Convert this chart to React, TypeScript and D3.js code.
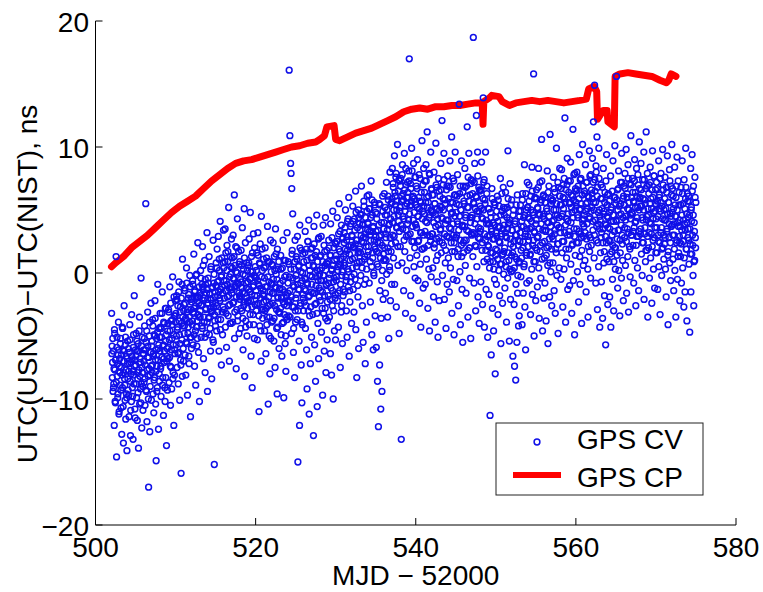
import React from 'react';
import * as d3 from 'd3';

const xTicks = [500, 520, 540, 560, 580];
const yTicks = [-20, -10, 0, 10, 20];
const xLabel = 'MJD \u2212 52000';
const yLabel = 'UTC(USNO)\u2212UTC(NIST), ns';
const seriesNames = ['GPS CV', 'GPS CP'];

// GPS CP (red line)
const cpX = [502.0, 502.5, 503.5, 504.5, 505.5, 506.5, 507.5, 508.5, 509.5, 510.5, 511.5, 512.5, 513.5, 514.5, 515.5, 516.5, 517.5, 518.5, 519.5, 520.5, 521.5, 522.5, 523.5, 524.5, 525.5, 526.5, 527.5, 528.0, 528.6, 528.9, 529.8, 530.0, 530.5, 531.5, 532.5, 533.5, 534.5, 535.5, 536.5, 537.5, 538.5, 539.5, 540.5, 541.5, 542.5, 543.5, 544.5, 545.5, 546.5, 547.5, 548.3, 548.4, 548.5, 549.2, 549.5, 550.4, 550.8, 551.7, 552.5, 553.5, 554.5, 555.5, 556.5, 557.5, 558.5, 559.5, 560.5, 561.3, 561.6, 562.3, 562.6, 562.7, 563.4, 563.9, 564.0, 564.8, 564.9, 565.5, 566.5, 567.5, 568.5, 569.5, 570.5, 571.3, 571.6, 571.9, 572.5];
const cpY = [0.5, 0.8, 1.3, 2.0, 2.5, 3.0, 3.6, 4.2, 4.8, 5.3, 5.7, 6.1, 6.7, 7.3, 7.8, 8.3, 8.7, 8.9, 9.0, 9.2, 9.4, 9.6, 9.8, 10.0, 10.1, 10.3, 10.4, 10.6, 10.9, 11.6, 11.7, 10.6, 10.5, 10.8, 11.1, 11.3, 11.5, 11.8, 12.1, 12.4, 12.8, 13.0, 13.1, 13.0, 13.2, 13.2, 13.3, 13.3, 13.4, 13.5, 13.5, 11.8, 13.6, 13.9, 14.1, 14.0, 13.6, 13.3, 13.5, 13.6, 13.7, 13.6, 13.7, 13.6, 13.5, 13.6, 13.7, 13.8, 14.6, 14.8, 14.4, 12.2, 12.9, 12.9, 12.0, 11.6, 15.6, 15.8, 15.9, 15.8, 15.7, 15.6, 15.3, 15.1, 15.3, 15.8, 15.6];

// GPS CV (blue circles), values per day
const cvDays = [502, 503, 504, 505, 506, 507, 508, 509, 510, 511, 512, 513, 514, 515, 516, 517, 518, 519, 520, 521, 522, 523, 524, 525, 526, 527, 528, 529, 530, 531, 532, 533, 534, 535, 536, 537, 538, 539, 540, 541, 542, 543, 544, 545, 546, 547, 548, 549, 550, 551, 552, 553, 554, 555, 556, 557, 558, 559, 560, 561, 562, 563, 564, 565, 566, 567, 568, 569, 570, 571, 572, 573, 574];
const cvValues = [
  [-3.2, -5.8, -7.1, -9.4, -6.2, -8.8, -12.1, -4.5, -7.7, -10.3, -6.9, 1.3, -14.6, -5.1, -8.2, -9.9, -6.5, -3.9, -11.2, -7.4],
  [-6.8, -8.9, -5.2, -10.7, -7.5, -12.8, -4.3, -9.1, -6.1, -13.5, -7.9, -2.6, -8.4, -10.1, -5.7, -11.6, -6.6, -9.6, -14.1, -7.2],
  [-5.4, -9.3, -7.8, -11.4, -6.3, -4.1, -8.6, -12.9, -7.1, -10.2, -3.3, -6.9, -9.8, -13.2, -5.9, -8.1, -1.8, -7.4, -10.8, -6.1],
  [-7.3, -4.8, -9.9, -6.2, -11.7, -8.4, -5.6, -13.9, -7.7, -3.5, -10.4, -6.8, -9.2, -0.4, -8.8, -12.3, -5.1, -7.9, -10.9, -6.4],
  [-6.1, -8.7, -4.2, -10.5, -7.3, 5.5, -5.5, -9.4, -11.8, -6.7, -3.1, -8.2, -17.0, -7.6, -5.0, -12.6, -9.0, -6.3, -2.4, -10.1],
  [-5.8, -7.9, -3.7, -9.6, -6.4, -11.1, -4.9, -8.3, -2.2, -6.9, -10.4, -14.9, -5.2, -7.4, -9.1, -0.9, -6.0, -12.4, -4.4, -8.6],
  [-5.1, -3.2, -7.6, -9.8, -4.4, -6.7, -1.5, -8.9, -5.8, -11.3, -3.9, -7.1, -6.2, -10.2, -2.8, -8.3, -4.9, -13.7, -6.6, -9.3],
  [-4.6, -6.8, -2.9, -8.7, -5.3, -1.1, -7.4, -10.5, -3.8, -6.1, -9.2, -4.1, -0.3, -7.9, -5.7, -12.1, -3.4, -8.1, -6.4, -2.2],
  [-3.9, -5.7, -1.8, -7.5, -4.5, -2.6, -8.8, -6.3, -0.7, -4.9, -10.1, -3.1, -6.9, -15.9, -2.0, -5.3, -8.2, 1.1, -4.2, -7.0],
  [-3.0, -4.8, -1.2, -6.5, -2.4, -8.1, -3.7, 0.4, -5.6, -9.7, -2.9, -4.3, -1.7, -7.2, -3.5, -0.2, -5.1, -11.4, -2.1, -6.0],
  [-2.3, -4.1, -0.6, -5.7, -3.2, 1.5, -2.8, -7.4, -1.4, -4.6, -8.9, -2.0, -0.1, -3.8, -5.2, 2.4, -1.9, -6.3, -3.5, -10.2],
  [-1.8, -3.5, 0.2, -5.1, -2.6, -0.9, -4.4, 2.1, -1.3, -6.8, -2.2, -3.9, 1.0, -7.9, -0.5, -2.9, -4.8, -1.6, 3.2, -9.4],
  [-2.1, -0.4, -3.6, 1.3, -4.9, -1.7, -2.8, -6.2, 0.5, -3.1, -8.4, -1.1, -2.4, 2.6, -5.5, -0.8, -15.2, -3.3, -1.5, -4.2],
  [-2.4, 0.8, -4.6, 1.9, -0.7, -3.1, 2.9, -1.5, -6.2, 0.2, -2.0, 4.1, -3.7, -0.3, -7.3, 1.2, -1.1, -4.9, -2.7, 3.4],
  [0.4, -2.9, -1.0, 3.5, -4.3, 1.6, -0.6, -5.9, 2.2, -1.9, 0.9, -3.4, 5.2, -1.2, -7.0, -2.5, 1.3, -0.1, -4.0, 2.7],
  [-1.6, 1.2, -3.9, 3.0, -0.4, -2.3, 6.2, -5.2, 0.6, -1.1, 2.1, -7.6, -2.9, 0.0, 4.3, -3.4, -0.9, 1.7, -4.8, -1.8],
  [0.9, -2.1, -4.4, 1.8, -0.7, -3.0, 3.6, -1.5, -6.1, 0.3, -2.6, 5.1, -8.2, -0.2, 2.4, -3.8, -1.2, 0.8, -5.0, -2.3],
  [-2.8, 0.6, -1.3, 2.7, -4.1, -0.5, 4.8, -2.2, -6.6, 1.3, -1.7, -9.1, 0.1, -3.3, 3.1, -1.0, -5.2, 2.0, -2.5, -0.3],
  [-0.4, -3.0, 1.6, -1.8, -5.3, 3.2, -0.9, -2.4, -11.0, 0.8, -4.2, 2.3, -1.2, -7.0, 4.5, -2.9, 0.2, -3.6, -1.4, 1.1],
  [-2.3, 0.4, -4.6, 2.0, -1.1, -6.4, -2.8, 1.2, -3.5, 3.7, -0.3, -10.4, -1.9, -5.0, 0.9, -8.0, -2.5, 2.6, -0.8, -3.9],
  [0.7, -1.6, -3.8, 2.4, -0.5, -5.4, 1.3, -2.6, -7.5, 3.5, -1.1, -0.1, -4.4, -9.6, 1.9, -2.0, 0.3, -3.1, -6.0, -1.3],
  [-3.2, -0.8, 1.4, -4.9, -2.0, -6.6, 0.4, -1.3, 2.6, -3.9, -9.9, -2.5, -0.3, -5.6, 1.0, -7.8, -1.8, -3.5, 3.2, -2.2],
  [-1.6, 0.9, -3.4, 16.1, -0.3, 10.9, -2.2, 8.7, 7.9, -4.8, 6.7, 1.8, 4.7, -1.0, -6.3, -2.7, 0.3, -8.3, 2.6, -3.9],
  [-2.0, 1.3, -0.5, -3.7, 2.9, -15.0, -1.3, 0.5, -5.4, -12.1, 3.8, -2.6, -0.8, -7.3, 1.8, -10.3, -4.1, 0.0, -1.7, -3.0],
  [0.9, -2.3, -0.4, 3.3, -4.4, -1.4, 1.9, -6.1, -9.2, -0.9, 2.5, -3.0, 4.2, -11.2, -1.8, 0.2, -7.2, -2.7, 1.2, -5.1],
  [-0.9, 2.0, -3.3, 0.6, -12.9, 3.7, -1.6, -5.7, 1.4, -8.6, -0.3, -2.4, 4.6, -10.6, 0.2, -4.0, 2.7, -6.8, -1.2, -0.1],
  [1.3, -2.2, -0.6, 2.9, -4.7, 0.4, -1.5, -9.7, 3.8, -3.2, -0.2, -6.2, 1.7, -2.8, 4.4, -7.9, -1.0, 0.8, -5.3, -3.8],
  [0.7, -1.8, 2.6, -0.4, -3.5, 1.4, -6.4, 3.9, -1.2, -8.1, 0.2, -2.6, 4.9, -10.0, -0.7, 2.0, -4.6, 1.0, -2.0, -5.3],
  [2.3, -0.6, 1.1, 4.4, -2.2, 0.2, -4.3, 3.1, 5.5, -1.4, 1.7, -7.5, 0.6, -3.1, 3.8, -0.2, -5.6, 2.7, -1.8, 1.3],
  [0.8, 3.2, -1.5, 1.9, 5.0, -0.3, -3.0, 2.6, -5.1, 4.1, 0.3, -1.1, 6.0, -6.6, 1.5, -2.3, 3.7, -0.7, 2.2, -4.0],
  [3.0, 0.4, 5.3, -1.3, 2.1, -3.1, 4.3, 1.2, -0.5, 6.5, -4.5, 2.6, -8.3, 0.8, 3.6, -1.9, 5.0, -6.0, 1.7, 3.9],
  [1.9, 4.7, -0.2, 3.0, 6.9, 0.9, -2.6, 3.8, -5.5, 2.4, 5.7, -0.9, 1.3, -7.2, 4.4, 2.8, -3.9, 0.3, 6.1, 3.4],
  [4.0, 1.7, 6.2, -0.8, 3.3, 5.1, -2.3, 2.6, 7.3, 0.5, -4.9, 4.6, 1.2, -6.1, 3.7, -0.2, 5.6, 2.1, -3.4, 4.8],
  [2.9, -5.9, 4.3, 0.7, -8.6, 3.4, -12.2, 1.6, 5.5, -7.3, -1.4, 2.4, -10.8, -3.6, 4.0, -9.4, 0.2, 6.1, -2.1, 1.0],
  [3.5, 6.3, 1.1, 4.6, -1.6, 2.8, 7.2, -0.1, 5.0, -3.5, 2.0, 5.8, -5.2, 3.9, 0.5, 8.0, -2.2, 4.3, 1.7, -0.9],
  [5.6, 8.3, 3.0, 6.8, 1.2, 4.5, 9.3, -0.9, 6.1, 2.4, 7.6, -2.7, 5.0, 3.6, 10.2, 0.6, 6.5, 4.1, -4.8, 7.3],
  [4.9, 2.1, 7.5, -13.2, 5.7, 0.8, 8.6, 3.5, 6.3, -1.4, 4.3, 9.5, 1.7, 5.3, -3.2, 7.0, 2.9, 0.2, 6.0, 3.9],
  [6.4, 3.0, 8.1, 17.0, 4.7, 1.2, 7.1, -1.8, 5.4, 9.9, 2.5, 6.0, -3.6, 4.2, 8.7, 0.5, 5.9, 2.0, -0.4, 7.6],
  [3.8, 6.9, 1.4, 5.2, 9.0, -0.6, 4.5, 2.6, 7.8, -2.4, 5.7, 0.7, -4.3, 6.4, 3.2, 10.5, 1.9, 4.9, -1.2, 8.3],
  [5.3, 2.0, 7.3, -0.9, 4.1, 8.6, 1.1, 6.0, 11.2, 3.0, -2.8, 5.6, 0.3, 7.9, -4.6, 4.6, 2.5, 9.6, -0.3, 6.6],
  [3.1, 6.2, 0.4, 4.8, -1.9, 8.0, 2.3, 5.5, -3.9, 3.7, 10.3, 1.0, 6.8, -0.7, 4.3, -5.1, 7.5, 2.8, -2.2, 5.0],
  [6.1, 3.4, 8.7, 1.6, 5.2, 12.1, -0.2, 4.3, 7.0, 2.2, 9.5, -2.1, 5.8, 0.8, 3.9, -4.4, 6.6, 2.9, -0.9, 7.7],
  [4.2, 1.2, 6.9, -1.5, 3.6, 8.9, 0.4, 5.6, 2.4, 10.8, -3.2, 4.8, 7.5, -0.5, 3.0, -4.9, 6.2, 1.7, 9.6, 2.8],
  [2.8, 5.5, -0.6, 4.1, 7.8, 1.3, -2.6, 3.4, 13.4, 6.3, 0.1, -4.1, 5.0, 2.2, 8.9, -1.3, 3.8, -5.5, 6.9, 1.6],
  [5.7, 2.6, 8.3, 0.6, 4.4, -1.6, 6.9, 3.4, 11.6, 1.8, -3.5, 5.2, 9.5, 2.0, -0.4, 6.2, 4.0, -5.2, 7.4, 3.0],
  [4.4, 7.3, 1.3, 18.7, 5.6, -0.8, 3.1, 8.7, 2.2, -3.0, 6.1, 12.5, 0.5, 4.9, 9.6, -1.9, 3.6, 6.8, -4.0, 2.7],
  [6.5, 3.3, -0.7, 5.1, 8.8, 1.8, -2.5, 4.3, 13.9, 7.2, 0.9, -4.3, 5.8, 2.6, 9.6, -1.3, 3.9, 6.3, 1.1, -5.1],
  [2.2, 5.1, -1.7, 3.9, 0.4, -11.3, 4.8, 1.6, -6.5, 3.3, 6.7, -2.8, 2.7, 0.9, -4.6, 5.6, -0.5, 3.8, -8.0, 1.9],
  [4.4, -0.9, 2.9, 6.1, 1.1, -3.3, 3.6, 0.2, 5.3, -1.8, 2.4, 7.5, -5.6, 3.1, 0.7, 4.9, -2.4, 1.5, 6.8, -0.1],
  [1.7, 4.6, -1.2, 3.2, 6.4, 0.5, -3.9, 2.8, 5.2, -0.4, 9.7, 3.9, 1.0, -5.4, 4.2, 7.1, -2.1, 2.3, 0.1, 5.8],
  [3.4, 0.2, -6.6, 2.1, 5.0, -2.5, -7.4, 1.3, 4.1, -8.5, -0.9, 3.0, -5.5, 6.2, -1.6, 2.6, -4.2, 0.8, -3.4, 4.5],
  [2.5, 5.4, -0.3, 3.7, 1.2, -4.1, 6.3, 2.0, -1.6, 4.4, 0.5, 8.6, -2.7, 3.1, -6.1, 5.0, 1.6, -0.8, 7.2, 2.9],
  [5.2, 2.1, 7.0, -0.6, 4.3, 1.4, -3.3, 6.1, 3.6, 0.3, 8.4, -1.7, 4.8, 2.6, 15.8, -5.0, 3.2, 5.9, 0.9, -2.2],
  [3.9, 6.6, 1.8, -1.1, 5.2, 2.9, 8.3, 0.4, -3.6, 4.6, 7.2, 2.2, -0.4, 5.8, 10.6, 1.1, -4.6, 3.4, 6.1, -2.0],
  [4.7, 1.2, -0.8, 6.0, 3.3, -3.8, 5.1, 2.0, 8.1, 0.6, -5.6, 4.0, 6.9, 2.7, -1.9, 11.0, 3.7, 0.1, 5.5, -2.6],
  [2.9, 5.7, 0.8, 7.6, 4.2, -1.4, 3.1, 6.4, -3.2, 1.9, 5.0, 9.9, -0.2, 4.6, 2.3, -4.8, 6.8, 3.6, 0.4, 8.3],
  [6.1, 3.2, -0.5, 5.4, 8.2, 1.6, 4.7, -2.7, 7.0, 2.5, 0.3, 5.9, 12.3, 3.8, -3.9, 6.6, 1.2, 4.3, 9.1, -1.3],
  [4.1, 7.3, 1.9, 5.5, -1.0, 3.0, 8.8, 0.7, 6.2, -3.2, 4.8, 2.3, 11.4, -0.6, 5.8, 3.5, -4.9, 7.9, 1.4, 6.5],
  [5.6, 2.4, 8.0, 0.1, 4.6, 6.9, -2.3, 3.3, 9.4, 1.3, -0.9, 5.1, 7.5, 2.8, -4.0, 6.2, 10.2, 3.9, 0.6, 4.3],
  [3.7, 6.5, 1.0, 8.6, 4.9, -1.5, 2.7, 7.2, 5.6, 0.3, -3.5, 6.1, 3.0, 9.7, 1.7, 4.4, -0.4, 7.8, 2.2, 5.2],
  [6.3, 9.1, 3.4, 12.0, 5.6, 1.2, 14.9, 7.4, 4.2, -0.8, 8.5, 2.6, 10.8, -2.9, 6.8, 3.9, 0.5, 9.9, 5.0, -4.3],
  [4.5, 1.6, 7.0, -0.7, 3.2, 5.9, -3.6, 2.4, 8.3, 0.8, 4.9, -1.8, 6.4, 2.9, -5.7, 3.8, 9.4, 1.1, 5.4, -2.5],
  [3.6, 6.3, 0.9, 4.8, -1.9, 2.5, 7.7, -4.3, 5.2, 1.7, 3.0, -0.5, 8.9, 4.1, -3.0, 6.0, 2.0, 10.1, 0.3, 5.5],
  [4.2, 15.6, 1.4, 6.6, -1.2, 3.4, 8.1, 0.2, 5.3, -3.4, 2.6, 7.2, 4.7, -0.4, 9.5, 3.0, 1.0, 5.9, -2.2, 6.9],
  [5.4, 2.8, 7.9, 0.6, 4.2, 9.8, -1.6, 6.3, 3.5, 1.3, 8.6, -3.1, 5.0, 2.1, 7.1, -0.3, 4.6, 10.9, 3.0, 6.0],
  [4.8, 7.5, 2.2, 5.7, -0.8, 3.6, 9.0, 1.0, 6.4, -2.6, 4.1, 8.3, 2.9, 0.4, 5.2, 7.0, -1.4, 3.3, 10.4, 5.9],
  [6.0, 3.1, 8.7, 1.5, 5.3, -0.2, 7.4, 4.2, 2.4, 9.6, -2.1, 5.8, 3.6, 0.9, 6.7, 11.2, 4.5, 1.8, 7.9, -3.5],
  [5.1, 2.0, 7.0, -0.4, 4.0, 8.4, 1.2, 5.9, 3.1, -2.4, 6.6, 9.7, 2.6, 0.3, 4.8, 7.7, -1.2, 3.6, 5.5, 1.6],
  [4.3, 7.2, 1.6, 5.7, -1.3, 3.0, 8.9, 0.5, 6.2, 2.4, -3.3, 4.9, 7.9, 3.6, -0.2, 5.3, 9.8, 2.0, 6.6, 1.1],
  [5.0, 2.3, 7.6, 0.3, 4.2, -1.9, 6.4, 3.3, 9.3, 1.4, -4.1, 5.6, 2.8, 8.2, 0.8, 4.7, -0.6, 6.9, 3.7, 10.2],
  [3.8, 6.7, 1.1, 5.1, -1.4, 3.0, 8.4, 0.2, 4.5, -3.5, 6.0, 2.4, 9.2, -0.5, 4.0, 7.3, 1.6, 5.4, 2.9, -2.2],
  [4.2, 1.3, 6.8, -0.8, 3.4, 8.9, 0.4, 5.5, 2.5, -2.7, 7.4, 3.9, -1.5, 5.9, 9.9, 1.9, 4.7, -3.8, 6.3, 2.8],
  [3.5, 6.1, 0.7, 4.6, -4.7, 2.3, 8.3, -1.5, 5.2, 1.5, 9.4, 3.0, -0.2, 6.9, -2.6, 4.0, 1.0, 7.6, 2.8, 5.6],
];

// GPS CV, second block of readings per day (same days, later in each day)
const cvValuesLate = [
  [-6.4, -8.3, -5.2, -9.1, -7.6, -4.8, -10.2, -6.9, -8.7, -5.9, -7.2, -9.6, -6.1, -11.0],
  [-7.9, -5.6, -9.3, -6.5, -8.1, -4.4, -10.6, -7.0, -6.2, -8.9, -5.1, -7.7, -9.9, -6.8],
  [-8.4, -6.0, -9.7, -7.2, -5.3, -10.9, -8.0, -6.6, -9.1, -7.8, -4.9, -8.8, -6.9, -11.5],
  [-6.6, -8.8, -5.4, -7.9, -9.5, -6.2, -4.6, -8.2, -7.1, -10.3, -5.8, -7.5, -9.0, -6.4],
  [-7.0, -5.2, -8.4, -6.1, -9.3, -4.6, -7.7, -5.8, -10.0, -6.7, -3.9, -8.1, -6.3, -7.4],
  [-5.4, -7.3, -4.2, -6.6, -8.5, -5.0, -3.6, -7.8, -6.1, -9.4, -4.7, -6.9, -5.7, -8.0],
  [-6.2, -4.3, -7.4, -5.1, -3.2, -8.3, -5.7, -6.8, -4.0, -9.1, -5.4, -2.8, -7.0, -6.0],
  [-4.0, -5.9, -3.1, -6.7, -4.6, -2.4, -7.5, -5.2, -3.7, -8.4, -4.9, -1.9, -6.1, -3.4],
  [-3.2, -5.0, -2.1, -4.3, -6.4, -1.5, -3.8, -5.6, -2.7, -7.3, -4.0, -0.9, -3.5, -6.0],
  [-2.5, -4.2, -1.4, -3.6, -5.5, -0.8, -3.1, -4.8, -2.0, -6.6, -3.9, -1.1, -2.9, -5.1],
  [-2.0, -3.8, -0.9, -3.1, -4.9, -1.5, -2.6, -0.2, -4.3, -5.8, -1.9, -3.3, -2.4, -1.1],
  [-1.6, -3.0, -0.4, -2.5, -4.2, -1.1, 0.6, -3.5, -2.0, -5.1, -0.9, -2.8, -1.3, -3.9],
  [-2.4, -0.8, -3.5, -1.6, -4.4, 0.3, -2.1, -3.0, -1.2, -5.3, -2.7, -0.1, -3.8, -1.9],
  [-1.0, -2.6, 0.4, -1.8, -3.7, -0.6, 1.1, -2.2, -4.5, -1.3, -0.2, -3.1, -1.6, 0.8],
  [-0.6, -2.0, 0.9, -1.4, -3.2, 0.2, -0.9, 1.7, -2.6, -1.8, -0.3, -4.0, 0.5, -1.1],
  [-1.3, 0.4, -2.4, -0.5, 1.3, -3.1, -1.0, 0.1, -1.9, 2.0, -3.8, -0.8, -1.6, 0.7],
  [-1.9, -0.5, -2.8, 0.6, -1.2, -3.6, -0.1, -2.3, 1.2, -1.6, -4.3, -0.8, -2.0, 0.2],
  [-0.7, -2.2, 0.8, -1.5, -3.3, 0.1, -0.4, -2.7, 1.6, -1.1, -4.1, -0.2, -1.8, 0.5],
  [-1.4, 0.2, -2.5, -0.6, 1.4, -3.4, -1.0, 0.7, -2.0, -4.6, -0.3, 1.9, -1.7, -2.9],
  [-1.8, -0.4, -3.0, 0.5, -2.2, -4.1, -1.1, 0.9, -2.6, -0.7, -3.5, -1.5, -5.2, 0.1],
  [-0.9, -2.4, 0.6, -1.6, -3.6, 0.2, -1.2, 1.5, -2.9, -0.5, -4.3, -1.9, 0.9, -3.1],
  [-1.2, -2.8, 0.3, -1.9, -4.0, -0.6, -2.3, 1.0, -3.3, -1.5, -5.0, -0.2, -2.6, -3.7],
  [-0.8, -2.3, 0.7, -1.4, -3.5, 0.3, -1.9, 1.5, -2.7, -0.4, -4.4, -1.1, 0.9, -3.0],
  [-0.2, -1.7, 1.1, -0.9, -3.0, 0.6, -1.3, 2.0, -2.4, 0.1, -3.9, -0.6, 1.5, -2.0],
  [0.4, -1.3, 1.6, -0.5, -2.6, 1.0, -0.8, 2.5, -1.9, 0.6, -3.4, -0.2, 1.9, -1.5],
  [-0.3, 1.2, -1.6, 0.5, 2.3, -2.5, 0.0, -1.0, 1.7, -3.2, 0.9, -0.6, 2.8, -1.9],
  [0.2, -1.4, 1.4, -0.6, -2.8, 0.9, -0.2, 2.2, -1.8, 0.6, -3.6, -0.9, 1.8, -2.3],
  [0.9, -0.8, 2.0, -0.1, -2.1, 1.4, 0.3, 2.8, -1.4, 0.6, -3.0, -0.4, 2.4, -1.7],
  [1.4, -0.3, 2.5, 0.5, -1.6, 1.9, 0.7, 3.3, -0.9, 1.1, -2.6, 0.1, 2.8, -1.3],
  [2.4, 0.6, 3.6, 1.5, -0.6, 2.9, 1.8, 4.3, 0.1, 2.1, -1.4, 1.0, 3.9, -0.3],
  [2.9, 1.1, 4.1, 2.0, -0.1, 3.4, 2.3, 4.8, 0.5, 2.6, -1.0, 1.6, 4.4, 0.9],
  [3.4, 1.6, 4.6, 2.5, 0.4, 3.9, 2.8, 5.3, 1.1, 3.1, -0.5, 2.1, 4.9, 1.4],
  [3.9, 2.1, 5.1, 3.0, 0.9, 4.4, 3.3, 5.8, 1.6, 3.6, 0.0, 2.6, 5.4, 1.9],
  [3.3, 1.7, 4.7, 2.4, 0.5, 3.8, 2.9, 5.4, 1.2, 3.0, -0.6, 2.2, 4.9, 1.5],
  [4.0, 2.0, 5.2, 3.1, 1.0, 4.6, 3.4, 6.1, 1.7, 3.8, 0.2, 2.8, 5.5, 2.3],
  [5.9, 4.0, 7.1, 5.0, 2.9, 6.4, 5.4, 7.9, 3.6, 5.7, 2.1, 4.6, 7.4, 3.3],
  [5.2, 6.9, 3.8, 6.1, 7.8, 4.5, 5.8, 2.6, 6.6, 4.9, 8.3, 3.4, 5.5, 7.2],
  [6.0, 4.2, 7.3, 5.3, 3.1, 6.7, 5.7, 8.1, 3.7, 6.1, 2.5, 4.8, 7.6, 3.9],
  [5.4, 3.6, 6.7, 4.5, 2.5, 6.0, 5.1, 7.5, 3.2, 5.6, 1.9, 4.3, 7.0, 3.0],
  [4.7, 6.4, 3.3, 5.6, 7.3, 4.0, 5.2, 2.2, 6.1, 4.4, 7.8, 2.9, 5.0, 6.7],
  [4.9, 3.1, 6.2, 4.0, 2.0, 5.5, 4.6, 7.0, 2.7, 5.1, 1.4, 3.8, 6.5, 2.5],
  [5.3, 3.5, 6.6, 4.4, 2.4, 5.9, 5.0, 7.4, 3.1, 5.5, 1.8, 4.2, 6.9, 2.9],
  [4.2, 5.9, 2.8, 5.1, 6.8, 3.5, 4.7, 1.7, 5.6, 3.9, 7.3, 2.4, 4.5, 6.2],
  [4.8, 3.0, 6.1, 3.9, 1.9, 5.4, 4.5, 6.9, 2.6, 5.0, 1.3, 3.7, 6.4, 2.4],
  [5.5, 3.7, 6.8, 4.6, 2.6, 6.1, 5.2, 7.6, 3.3, 5.7, 2.0, 4.4, 7.1, 3.1],
  [4.6, 6.3, 3.2, 5.5, 7.2, 3.9, 5.1, 2.1, 6.0, 4.3, 7.7, 2.8, 4.9, 6.6],
  [5.3, 3.5, 6.6, 4.4, 2.4, 5.9, 5.0, 7.4, 3.1, 5.5, 1.8, 4.2, 6.9, 2.9],
  [3.9, 2.1, 5.1, 3.0, 0.9, 4.4, 3.5, 5.9, 1.6, 4.0, 0.3, 2.7, 5.4, 1.4],
  [3.2, 4.9, 1.8, 4.1, 5.8, 2.5, 3.7, 0.7, 4.6, 2.9, 6.3, 1.4, 3.5, 5.2],
  [3.8, 2.0, 5.1, 2.9, 0.9, 4.4, 3.5, 5.9, 1.6, 4.0, 0.3, 2.7, 5.4, 1.4],
  [3.4, 1.6, 4.6, 2.5, 0.4, 3.9, 3.0, 5.4, 1.1, 3.5, -0.2, 2.2, 4.9, 0.9],
  [3.2, 4.9, 1.8, 4.1, 5.8, 2.5, 3.7, 0.7, 4.6, 2.9, 6.3, 1.4, 3.5, 5.2],
  [4.4, 2.6, 5.7, 3.5, 1.5, 5.0, 4.1, 6.5, 2.2, 4.6, 0.9, 3.3, 6.0, 2.0],
  [4.2, 5.9, 2.8, 5.1, 6.8, 3.5, 4.7, 1.7, 5.6, 3.9, 7.3, 2.4, 4.5, 6.2],
  [4.3, 2.5, 5.6, 3.4, 1.4, 4.9, 4.0, 6.4, 2.1, 4.5, 0.8, 3.2, 5.9, 1.9],
  [4.1, 5.8, 2.7, 5.0, 6.7, 3.4, 4.6, 1.6, 5.5, 3.8, 7.2, 2.3, 4.4, 6.1],
  [5.4, 3.6, 6.7, 4.5, 2.5, 6.0, 5.1, 7.5, 3.2, 5.6, 1.9, 4.3, 7.0, 3.0],
  [4.7, 6.4, 3.3, 5.6, 7.3, 4.0, 5.2, 2.2, 6.1, 4.4, 7.8, 2.9, 5.0, 6.7],
  [5.3, 3.5, 6.6, 4.4, 2.4, 5.9, 5.0, 7.4, 3.1, 5.5, 1.8, 4.2, 6.9, 2.9],
  [4.6, 6.3, 3.2, 5.5, 7.2, 3.9, 5.1, 2.1, 6.0, 4.3, 7.7, 2.8, 4.9, 6.6],
  [5.9, 4.1, 7.2, 5.0, 3.0, 6.5, 5.6, 8.0, 3.7, 6.1, 2.4, 4.8, 7.5, 3.5],
  [4.2, 5.9, 2.8, 5.1, 6.8, 3.5, 4.7, 1.7, 5.6, 3.9, 7.3, 2.4, 4.5, 6.2],
  [4.4, 2.6, 5.7, 3.5, 1.5, 5.0, 4.1, 6.5, 2.2, 4.6, 0.9, 3.3, 6.0, 2.0],
  [4.1, 5.8, 2.7, 5.0, 6.7, 3.4, 4.6, 1.6, 5.5, 3.8, 7.2, 2.3, 4.4, 6.1],
  [5.4, 3.6, 6.7, 4.5, 2.5, 6.0, 5.1, 7.5, 3.2, 5.6, 1.9, 4.3, 7.0, 3.0],
  [4.7, 6.4, 3.3, 5.6, 7.3, 4.0, 5.2, 2.2, 6.1, 4.4, 7.8, 2.9, 5.0, 6.7],
  [5.3, 3.5, 6.6, 4.4, 2.4, 5.9, 5.0, 7.4, 3.1, 5.5, 1.8, 4.2, 6.9, 2.9],
  [4.6, 6.3, 3.2, 5.5, 7.2, 3.9, 5.1, 2.1, 6.0, 4.3, 7.7, 2.8, 4.9, 6.6],
  [5.4, 3.6, 6.7, 4.5, 2.5, 6.0, 5.1, 7.5, 3.2, 5.6, 1.9, 4.3, 7.0, 3.0],
  [4.2, 5.9, 2.8, 5.1, 6.8, 3.5, 4.7, 1.7, 5.6, 3.9, 7.3, 2.4, 4.5, 6.2],
  [4.8, 3.0, 6.1, 3.9, 1.9, 5.4, 4.5, 6.9, 2.6, 5.0, 1.3, 3.7, 6.4, 2.4],
  [3.7, 5.4, 2.3, 4.6, 6.3, 3.0, 4.2, 1.2, 5.1, 3.4, 6.8, 1.9, 4.0, 5.7],
  [4.4, 2.6, 5.7, 3.5, 1.5, 5.0, 4.1, 6.5, 2.2, 4.6, 0.9, 3.3, 6.0, 2.0],
];

const FONT = "'Liberation Sans', Arial, Helvetica, sans-serif";
const BLUE = '#1010e8';
const RED = '#ff0000';

export default function App() {
  const W = 763;
  const H = 592;
  const x = d3.scaleLinear().domain([500, 580]).range([95.5, 736]);
  const y = d3.scaleLinear().domain([-20, 20]).range([525, 21]);

  const points: [number, number][] = [];
  cvDays.forEach((d, k) => {
    const a = cvValues[k];
    const b = cvValuesLate[k];
    const n = a.length + b.length;
    // interleave the two blocks through the day
    const merged: number[] = [];
    let ia = 0;
    let ib = 0;
    for (let j = 0; j < n; j++) {
      const takeA = ib >= b.length || (ia < a.length && ia * b.length <= ib * a.length);
      merged.push(takeA ? a[ia++] : b[ib++]);
    }
    merged.forEach((v, i) => points.push([d + (i + 0.5) / n, v]));
  });

  const cp: [number, number][] = cpX.map((v, i) => [v, cpY[i]]);
  const line = d3
    .line<[number, number]>()
    .x((d) => x(d[0]))
    .y((d) => y(d[1]));

  const x0 = x.range()[0];
  const x1 = x.range()[1];
  const yTop = y.range()[1];
  const yBot = y.range()[0];
  const tick = 7;
  const fmt = (v: number) => (v < 0 ? '\u2212' + Math.abs(v) : String(v));

  const lg = { x: 496, y: 423, w: 207, h: 72 };

  return (
    <svg
      width={W}
      height={H}
      style={{ position: 'absolute', left: 0, top: 0, background: '#fff' }}
      fontFamily={FONT}
    >
      <rect x={0} y={0} width={W} height={H} fill="#fff" />
      <path d={line(cp) || ''} fill="none" stroke={RED} strokeWidth={7} strokeLinejoin="round" strokeLinecap="round" />
      <g fill="none" stroke={BLUE} strokeWidth={1.5}>
        {points.map((p, i) => (
          <circle key={i} cx={x(p[0])} cy={y(p[1])} r={2.9} />
        ))}
      </g>

      <g stroke="#000" strokeWidth={1} fill="none">
        <line x1={x0} y1={yTop} x2={x0} y2={yBot} />
        <line x1={x0} y1={yBot} x2={x1} y2={yBot} />
        {xTicks.map((t) => (
          <line key={'xt' + t} x1={x(t)} x2={x(t)} y1={yBot} y2={yBot - tick} />
        ))}
        {yTicks.map((t) => (
          <line key={'yt' + t} x1={x0} x2={x0 + tick} y1={y(t)} y2={y(t)} />
        ))}
      </g>
      <g fontSize={28} fill="#000">
        {xTicks.map((t) => (
          <text key={'xl' + t} x={x(t)} y={557} textAnchor="middle">
            {fmt(t)}
          </text>
        ))}
        {yTicks.map((t) => (
          <text key={'yl' + t} x={89} y={y(t) + 11} textAnchor="end">
            {fmt(t)}
          </text>
        ))}
        <text x={(x0 + x1) / 2} y={585} textAnchor="middle">
          {xLabel}
        </text>
        <text transform={`translate(37, ${(yTop + yBot) / 2 + 11}) rotate(-90)`} textAnchor="middle">
          {yLabel}
        </text>
      </g>

      <rect x={lg.x} y={lg.y} width={lg.w} height={lg.h} fill="#fff" stroke="#222" strokeWidth={1} />
      <circle cx={537} cy={442} r={2.9} fill="none" stroke={BLUE} strokeWidth={1.5} />
      <line x1={513} x2={561} y1={475} y2={475} stroke={RED} strokeWidth={6} />
      <g fontSize={28} fill="#000">
        <text x={577} y={449}>{seriesNames[0]}</text>
        <text x={577} y={487}>{seriesNames[1]}</text>
      </g>
    </svg>
  );
}
